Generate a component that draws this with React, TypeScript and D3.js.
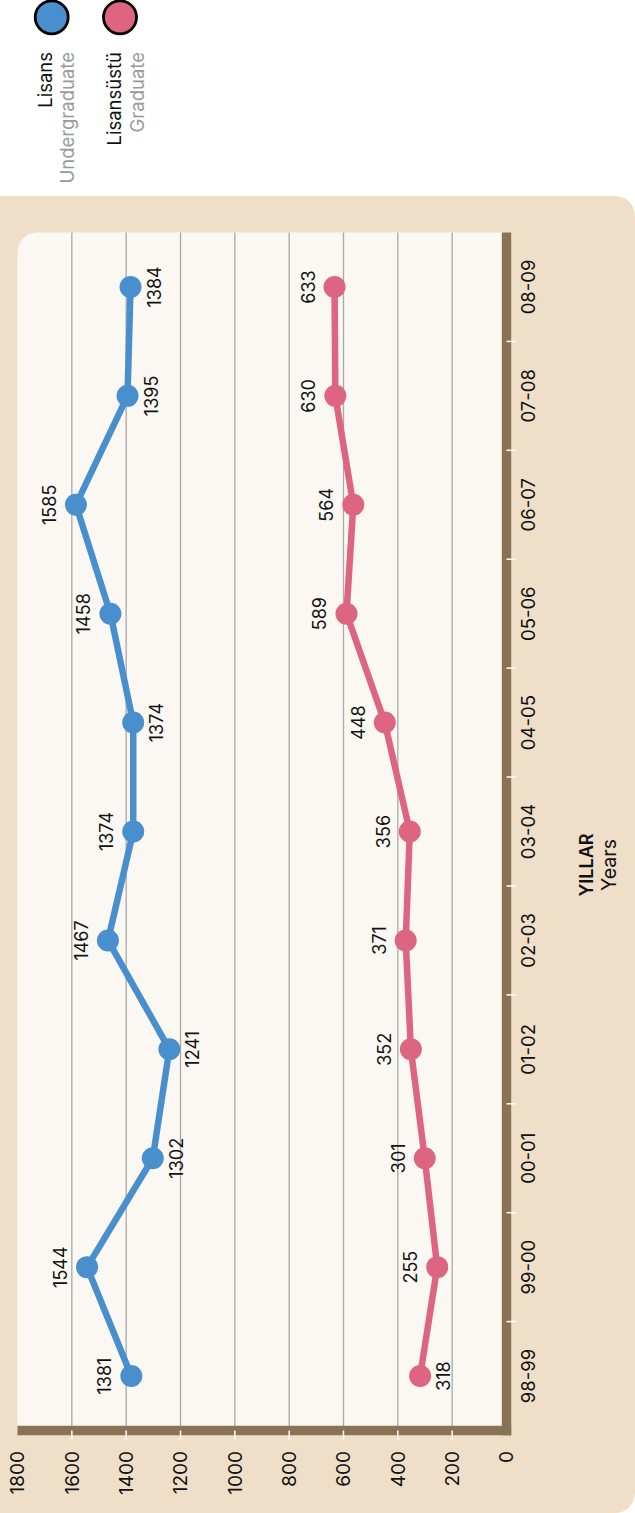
import React from 'react';
import * as d3 from 'd3';

const years = ['98-99', '99-00', '00-01', '01-02', '02-03', '03-04', '04-05', '05-06', '06-07', '07-08', '08-09'];
const undergraduate = [1381, 1544, 1302, 1241, 1467, 1374, 1374, 1458, 1585, 1395, 1384];
const graduate = [318, 255, 301, 352, 371, 356, 448, 589, 564, 630, 633];
const valueTicks = [0, 200, 400, 600, 800, 1000, 1200, 1400, 1600, 1800];
const undergradBelow = [false, false, true, true, false, false, true, false, false, true, true];
const gradBelow = [true, false, false, false, false, false, false, false, false, false, false];

const W = 635;
const H = 1513;
const FONT = "Inter, 'Noto Sans', 'DejaVu Sans', sans-serif";
const BLUE = '#4A8FCD';
const PINK = '#DD6581';
const BEIGE = '#EFDFC8';
const PLOT_BG = '#FBF8F3';
const BAR = '#8A7355';
const GRID = '#A8A8A8';

export default function App() {
  // landscape coordinates, rotated -90deg into the portrait page
  const x = d3.scaleBand<string>().domain(years).range([82.5, 1280.5]).padding(0);
  const y = d3.scaleLinear().domain([0, 1800]).range([506.5, 17.5]);
  const cx = (i: number) => (x(years[i]) as number) + x.bandwidth() / 2;
  const line = d3
    .line<number>()
    .x((_, i) => cx(i))
    .y((d) => y(d));

  const [x0, x1] = x.range();
  const yTop = y(1800);
  const yZero = y(0);
  const r = 20;
  const plotPath = `M${x0},${yTop} H${x1 - r} A${r},${r} 0 0 1 ${x1},${yTop + r} V${yZero} H${x0} Z`;

  const boundaries = years.slice(1).map((d) => x(d) as number);

  const series = [
    { values: undergraduate, color: BLUE, below: undergradBelow },
    { values: graduate, color: PINK, below: gradBelow },
  ];

  return (
    <svg
      width={W}
      height={H}
      style={{ position: 'absolute', left: 0, top: 0, display: 'block' }}
      fontFamily={FONT}
    >
      <rect x={-30} y={196} width={W + 30} height={H - 196} rx={20} fill={BEIGE} />
      <g transform={`translate(0,${H}) rotate(-90)`}>
        <path d={plotPath} fill={PLOT_BG} />
        {valueTicks
          .filter((v) => v > 0 && v < 1800)
          .map((v) => (
            <line key={'g' + v} x1={x0} x2={x1} y1={y(v)} y2={y(v)} stroke={GRID} strokeWidth={1.3} />
          ))}
        {/* axis bars */}
        <line x1={x0 - 4.7} x2={x1} y1={yZero} y2={yZero} stroke={BAR} strokeWidth={9.4} />
        <line x1={x0} x2={x0} y1={yTop} y2={yZero + 4.7} stroke={BAR} strokeWidth={9.4} />
        {/* ticks */}
        {valueTicks
          .filter((v) => v > 0 && v < 1800)
          .map((v) => (
            <line key={'t' + v} x1={x0} x2={x0 - 9} y1={y(v)} y2={y(v)} stroke="#fff" strokeWidth={1.5} />
          ))}
        {boundaries.map((b, i) => (
          <line key={'b' + i} x1={b} x2={b} y1={yZero} y2={yZero + 9} stroke="#fff" strokeWidth={1.5} />
        ))}
        {/* value tick labels */}
        {valueTicks.map((v) => (
          <text key={'vl' + v} x={62} y={y(v)} dy="0.36em" textAnchor="end" fontSize={19} fill="#111">
            {v}
          </text>
        ))}
        {/* category labels */}
        {years.map((d, i) => (
          <text key={'c' + d} x={cx(i)} y={535} textAnchor="middle" fontSize={18.5} fill="#111">
            {d}
          </text>
        ))}
        {/* axis title */}
        <text x={648} y={593.3} textAnchor="middle" fontSize={18} fontWeight={600} fill="#111">
          YILLAR
        </text>
        <text x={648} y={616} textAnchor="middle" fontSize={19.5} fill="#111">
          Years
        </text>
        {/* series */}
        {series.map((s, si) => (
          <g key={'s' + si}>
            <path d={line(s.values) as string} fill="none" stroke={s.color} strokeWidth={6.5} strokeLinejoin="round" />
            {s.values.map((v, i) => (
              <circle key={'p' + i} cx={cx(i)} cy={y(v)} r={11} fill={s.color} />
            ))}
            {s.values.map((v, i) => (
              <text
                key={'l' + i}
                x={cx(i)}
                y={s.below[i] ? y(v) + 30 : y(v) - 20}
                textAnchor="middle"
                fontSize={18}
                fill="#111"
              >
                {v}
              </text>
            ))}
          </g>
        ))}
        {/* legend */}
        <circle cx={1495.7} cy={51.7} r={16.5} fill={BLUE} stroke="#000" strokeWidth={2.8} />
        <circle cx={1495.7} cy={120} r={16.5} fill={PINK} stroke="#000" strokeWidth={2.8} />
        <text x={1461} y={51.7} textAnchor="end" fontSize={18.5} fill="#111">Lisans</text>
        <text x={1461} y={74} textAnchor="end" fontSize={18.5} fill="#9A9A9A">Undergraduate</text>
        <text x={1461} y={120.7} textAnchor="end" fontSize={18.5} fill="#111">Lisansüstü</text>
        <text x={1461} y={144} textAnchor="end" fontSize={18.5} fill="#9A9A9A">Graduate</text>
      </g>
    </svg>
  );
}
